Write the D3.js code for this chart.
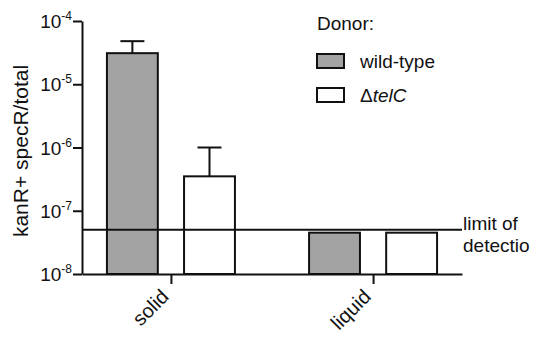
<!DOCTYPE html>
<html>
<head>
<meta charset="utf-8">
<script src="https://cdn.jsdelivr.net/npm/d3@7"></script>
<style>
  body { margin: 0; background: #fff; }
  text { font-family: "Liberation Sans", Arial, sans-serif; fill: #111; }
</style>
</head>
<body>
<div id="chart"></div>
<script>
// data
const groups = ["solid", "liquid"];
const donors = ["wild-type", "telC"];
const donorLabels = ["wild-type", "\u0394telC"];
const wildType = [3.1e-5, 4.5e-8];
const wildTypeErr = [4.8e-5, null];
const telC = [3.5e-7, 4.5e-8];
const telCErr = [1.0e-6, null];
const yTickExp = [-4, -5, -6, -7, -8];
const limitOfDetection = 5e-8;

const width = 538, height = 342;
const margin = {top: 21, left: 82, right: 76, bottom: 68};

const svg = d3.select("#chart")
  .append("svg")
  .attr("width", width)
  .attr("height", height);

const y = d3.scaleLog()
  .domain([1e-8, 1e-4])
  .range([height - margin.bottom, margin.top]);

const x = d3.scalePoint()
  .domain(groups)
  .range([margin.left, width - margin.right])
  .padding(0.44);

const xSub = d3.scaleBand()
  .domain(donors)
  .range([-64, 64])
  .paddingInner(0.34);

const fills = {"wild-type": "#a3a3a3", "telC": "#ffffff"};

// table built from the arrays
const rows = [];
groups.forEach((g, i) => {
  rows.push({group: g, donor: "wild-type", value: wildType[i], err: wildTypeErr[i]});
  rows.push({group: g, donor: "telC", value: telC[i], err: telCErr[i]});
});

// bars
svg.selectAll(".bar")
  .data(rows)
  .join("rect")
    .attr("class", "bar")
    .attr("x", d => x(d.group) + xSub(d.donor))
    .attr("width", xSub.bandwidth())
    .attr("y", d => y(d.value))
    .attr("height", d => y(1e-8) - y(d.value))
    .attr("fill", d => fills[d.donor])
    .attr("stroke", "#111")
    .attr("stroke-width", 2);

// error bars (upper only)
const errRows = rows.filter(d => d.err != null);
const cx = d => x(d.group) + xSub(d.donor) + xSub.bandwidth() / 2;
svg.selectAll(".err")
  .data(errRows)
  .join("line")
    .attr("x1", cx).attr("x2", cx)
    .attr("y1", d => y(d.value)).attr("y2", d => y(d.err))
    .attr("stroke", "#111").attr("stroke-width", 2);
svg.selectAll(".cap")
  .data(errRows)
  .join("line")
    .attr("x1", d => cx(d) - 12).attr("x2", d => cx(d) + 12)
    .attr("y1", d => y(d.err)).attr("y2", d => y(d.err))
    .attr("stroke", "#111").attr("stroke-width", 2);

// y axis
const yAxis = svg.append("g")
  .attr("transform", `translate(${margin.left},0)`)
  .call(d3.axisLeft(y)
    .tickValues(yTickExp.map(e => Math.pow(10, e)))
    .tickSize(9)
    .tickSizeOuter(0)
    .tickFormat(""));
yAxis.select(".domain").attr("stroke", "#111").attr("stroke-width", 2);
yAxis.selectAll(".tick line").attr("stroke", "#111").attr("stroke-width", 2);

yTickExp.forEach(e => {
  const t = svg.append("text")
    .attr("x", 72)
    .attr("y", y(Math.pow(10, e)) + 7)
    .attr("text-anchor", "end")
    .attr("font-size", 19);
  t.append("tspan").text("10");
  t.append("tspan")
    .attr("dy", -8)
    .attr("font-size", 12)
    .text(String(e));
});

// x axis
const xAxis = svg.append("g")
  .attr("transform", `translate(0,${y(1e-8)})`)
  .call(d3.axisBottom(x).tickSize(10).tickSizeOuter(0).tickFormat(""));
xAxis.select(".domain").attr("stroke", "#111").attr("stroke-width", 2);
xAxis.selectAll(".tick line").attr("stroke", "#111").attr("stroke-width", 2);

groups.forEach(g => {
  svg.append("text")
    .attr("transform", `translate(${x(g) - 1},${y(1e-8) + 24}) rotate(-45)`)
    .attr("text-anchor", "end")
    .attr("font-size", 20)
    .text(g);
});

// y label
svg.append("text")
  .attr("transform", `translate(28,151) rotate(-90)`)
  .attr("text-anchor", "middle")
  .attr("font-size", 21)
  .text("kanR+ specR/total");

// limit of detection
svg.append("line")
  .attr("x1", margin.left).attr("x2", width - margin.right)
  .attr("y1", y(limitOfDetection)).attr("y2", y(limitOfDetection))
  .attr("stroke", "#111").attr("stroke-width", 2);
svg.append("text")
  .attr("x", width - margin.right + 1)
  .attr("y", y(limitOfDetection))
  .attr("font-size", 19)
  .text("limit of");
svg.append("text")
  .attr("x", width - margin.right + 1)
  .attr("y", y(limitOfDetection) + 22)
  .attr("font-size", 19)
  .text("detectio");

// legend
const legend = svg.append("g").attr("transform", "translate(317,0)");
legend.append("text")
  .attr("x", 0).attr("y", 30)
  .attr("font-size", 19)
  .text("Donor:");
donors.forEach((dn, i) => {
  const yy = 54 + i * 34;
  legend.append("rect")
    .attr("x", 0).attr("y", yy)
    .attr("width", 27).attr("height", 14)
    .attr("fill", fills[dn])
    .attr("stroke", "#111")
    .attr("stroke-width", 2);
  const t = legend.append("text")
    .attr("x", 43).attr("y", yy + 14)
    .attr("font-size", 19);
  if (dn === "telC") {
    t.append("tspan").text("\u0394");
    t.append("tspan").attr("font-style", "italic").text("telC");
  } else {
    t.text(donorLabels[i]);
  }
});
</script>
</body>
</html>
